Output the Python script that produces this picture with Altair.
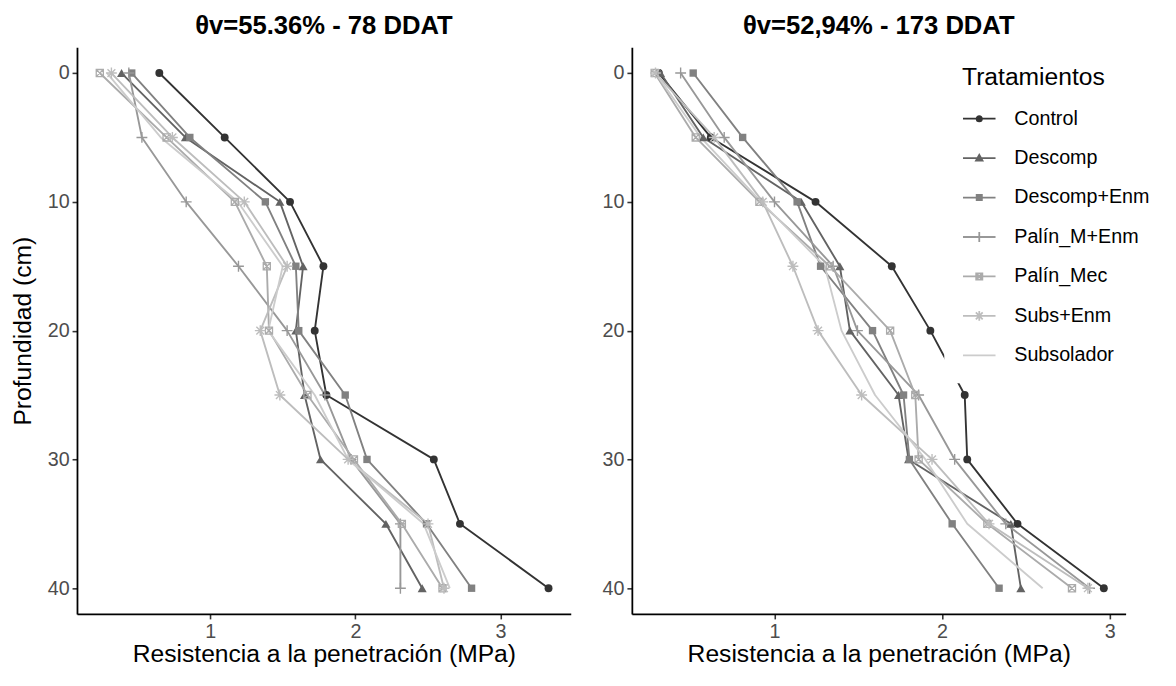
import altair as alt
import pandas as pd

depths = [0, 5, 10, 15, 20, 25, 30, 35, 40]
treatments = ["Control", "Descomp", "Descomp+Enm", "Palín_M+Enm",
              "Palín_Mec", "Subs+Enm", "Subsolador"]
grays = ["#333333", "#636363", "#818181", "#989898", "#ABABAB", "#BDBDBD", "#CCCCCC"]

# θv=55.36% - 78 DDAT (MPa by depth)
d78_control = [0.65, 1.10, 1.55, 1.78, 1.72, 1.80, 2.54, 2.72, 3.33]
d78_descomp = [0.39, 0.83, 1.48, 1.64, 1.59, 1.65, 1.76, 2.21, 2.46]
d78_descomp_enm = [0.46, 0.86, 1.38, 1.59, 1.61, 1.93, 2.08, 2.49, 2.80]
d78_palin_m_enm = [0.44, 0.53, 0.835, 1.195, 1.53, 1.79, 1.97, 2.31, 2.31]
d78_palin_mec = [0.24, 0.70, 1.17, 1.39, 1.405, 1.67, 1.99, 2.32, 2.60]
d78_subs_enm = [0.32, 0.74, 1.235, 1.53, 1.345, 1.48, 1.95, 2.50, 2.61]
d78_subsolador = [0.29, 0.66, 1.19, 1.50, 1.40, 1.72, 1.95, 2.47, 2.65]

# θv=52,94% - 173 DDAT
d173_control = [0.31, 0.62, 1.245, 1.70, 1.93, 2.135, 2.15, 2.45, 2.965]
d173_descomp = [0.32, 0.575, 1.16, 1.39, 1.45, 1.74, 1.80, 2.41, 2.47]
d173_descomp_enm = [0.515, 0.81, 1.135, 1.275, 1.585, 1.77, 1.805, 2.06, 2.34]
d173_palin_m_enm = [0.44, 0.70, 1.00, 1.35, 1.495, 1.86, 2.075, 2.38, 2.88]
d173_palin_mec = [0.285, 0.53, 0.91, 1.33, 1.69, 1.84, 1.86, 2.27, 2.775]
d173_subs_enm = [0.29, 0.64, 0.93, 1.11, 1.26, 1.52, 1.94, 2.28, 2.87]
d173_subsolador = [0.29, 0.56, 0.92, 1.30, 1.40, 1.60, 1.90, 2.15, 2.60]

x_ticks = [1, 2, 3]
y_ticks = [0, 10, 20, 30, 40]

FONT = "Liberation Sans"


def make_df(series):
    rows = []
    for t, vals in zip(treatments, series):
        for d, v in zip(depths, vals):
            rows.append({"Tratamiento": t, "depth": d, "rp": v})
    return pd.DataFrame(rows)


df78 = make_df([d78_control, d78_descomp, d78_descomp_enm, d78_palin_m_enm,
                d78_palin_mec, d78_subs_enm, d78_subsolador])
df173 = make_df([d173_control, d173_descomp, d173_descomp_enm, d173_palin_m_enm,
                 d173_palin_mec, d173_subs_enm, d173_subsolador])

color_scale = alt.Scale(domain=treatments, range=grays)

marker_styles = {
    "Control": dict(shape="circle", filled=True, size=64),
    "Descomp": dict(shape="triangle-up", filled=True, size=85),
    "Descomp+Enm": dict(shape="square", filled=True, size=56),
    "Palín_M+Enm": dict(shape="M0,-1V1M-1,0H1", filled=False, size=121, strokeWidth=1.4),
    "Palín_Mec": dict(shape="M-1,-1H1V1H-1ZM-1,-1L1,1M-1,1L1,-1", filled=False, size=52, strokeWidth=1.3),
    "Subs+Enm": dict(shape="M0,-1V1M-1,0H1M-0.72,-0.72L0.72,0.72M-0.72,0.72L0.72,-0.72",
                     filled=False, size=121, strokeWidth=1.4),
}

legend_paths = [
    "M-1,0H1M-0.165,0A0.165,0.165 0 1,0 0.165,0A0.165,0.165 0 1,0 -0.165,0Z",
    "M-1,0H1M-0.2,0.15L0.2,0.15L0,-0.2Z",
    "M-1,0H1M-0.16,-0.16H0.16V0.16H-0.16Z",
    "M-1,0H1M0,-0.3V0.3",
    "M-1,0H1M-0.19,-0.19H0.19V0.19H-0.19ZM-0.19,-0.19L0.19,0.19M-0.19,0.19L0.19,-0.19",
    "M-1,0H1M0,-0.3V0.3M-0.21,-0.21L0.21,0.21M-0.21,0.21L0.21,-0.21",
    "M-1,0H1",
]
legend_fills = ["#333333", "#636363", "#818181", "transparent", "transparent",
                "transparent", "transparent"]


def make_panel(df, xdom, title, ytitle, with_legend):
    yaxis = alt.Axis(values=y_ticks, title=ytitle) if ytitle else alt.Axis(values=y_ticks, title="")
    base = alt.Chart(df).encode(
        x=alt.X("rp:Q",
                scale=alt.Scale(domain=xdom, nice=False, zero=False),
                axis=alt.Axis(values=x_ticks, format="d",
                              title="Resistencia a la penetración (MPa)")),
        y=alt.Y("depth:Q",
                scale=alt.Scale(domain=[-2, 42], reverse=True, nice=False, zero=False),
                axis=yaxis),
    )
    layers = [
        base.mark_line(strokeWidth=1.9, strokeJoin="round").encode(
            color=alt.Color("Tratamiento:N", scale=color_scale, legend=None),
            order=alt.Order("depth:Q"),
        )
    ]
    for t, st in marker_styles.items():
        layers.append(
            base.transform_filter(alt.FieldEqualPredicate(field="Tratamiento", equal=t))
            .mark_point(opacity=1, **st)
            .encode(color=alt.Color("Tratamiento:N", scale=color_scale, legend=None))
        )
    if with_legend:
        leg = alt.Legend(
            title="Tratamientos", orient="none", legendX=317, legendY=0,
            padding=18, fillColor="white", zindex=1,
            symbolSize=1089, symbolStrokeWidth=1.8, symbolOpacity=1,
            titleFontSize=25, titleFontWeight="normal", titleColor="black", titleFont=FONT,
            titlePadding=12, labelFontSize=20, labelColor="black", labelFont=FONT,
            labelOffset=18, rowPadding=12,
        )
        layers.append(
            base.mark_point(opacity=0).encode(
                stroke=alt.Stroke("Tratamiento:N", scale=alt.Scale(domain=treatments, range=grays), legend=leg),
                fill=alt.Fill("Tratamiento:N", scale=alt.Scale(domain=treatments, range=legend_fills), legend=leg),
                shape=alt.Shape("Tratamiento:N", scale=alt.Scale(domain=treatments, range=legend_paths), legend=leg),
            )
        )
    return alt.layer(*layers).properties(
        width=501, height=575,
        title=alt.TitleParams(title, fontSize=26, fontWeight="bold", color="black", font=FONT,
                              anchor="middle", frame="group", baseline="alphabetic", offset=-12.5),
    )


left = make_panel(df78, [0.083, 3.483], "θv=55.36% - 78 DDAT", "Profundidad (cm)", False)
right = make_panel(df173, [0.149, 3.095], "θv=52,94% - 173 DDAT", None, True)

chart = (
    alt.hconcat(left, right, spacing=31)
    .resolve_scale(x="independent", y="independent", stroke="independent",
                   fill="independent", shape="independent")
    .resolve_legend(stroke="independent", fill="independent", shape="independent")
    .properties(padding={"left": 2, "top": 0, "right": 0, "bottom": 0})
    .configure_view(stroke=None)
    .configure_axis(grid=False, domainColor="black", domainWidth=1.8, tickColor="#333333",
                    tickWidth=1.6, tickSize=5, labelPadding=3, labelFontSize=20,
                    labelColor="#4D4D4D", labelFont=FONT, titleFont=FONT, titleFontSize=25,
                    titleFontWeight="normal", titleColor="black")
    .configure_axisY(titlePadding=12)
    .configure_axisX(titlePadding=0)
)

chart.save("out.html", embed_options={"renderer": "svg", "actions": False})
